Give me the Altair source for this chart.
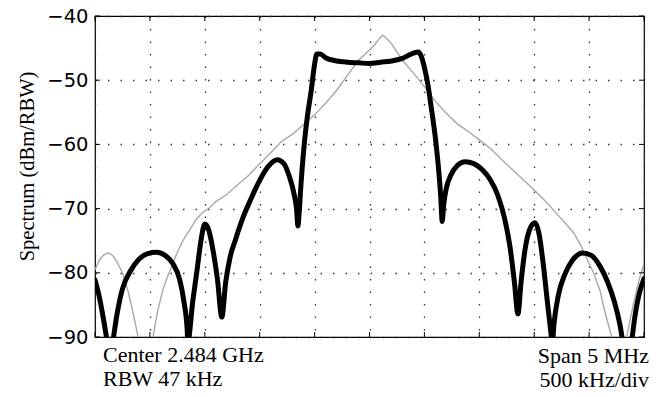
import altair as alt
import pandas as pd

# ---- data (frequency offset in MHz, level in dBm/RBW) ----
black_f = [-2.50, -2.46, -2.42, -2.38, -2.36, -2.34, -2.30, -2.25, -2.18, -2.10,
           -2.02, -1.94, -1.86, -1.79, -1.73, -1.69, -1.66, -1.655, -1.61, -1.57,
           -1.535, -1.50, -1.465, -1.425, -1.385, -1.345, -1.31, -1.27, -1.22, -1.15,
           -1.08, -1.00, -0.92, -0.84, -0.78, -0.73, -0.69, -0.665, -0.652, -0.64,
           -0.625, -0.60, -0.57, -0.53, -0.50, -0.48, -0.45, -0.40, -0.30, -0.20,
           -0.10, 0.00, 0.10, 0.20, 0.30, 0.37, 0.44, 0.47, 0.50, 0.53,
           0.56, 0.60, 0.63, 0.65, 0.662, 0.675, 0.70, 0.74, 0.80, 0.87,
           0.95, 1.03, 1.10, 1.17, 1.23, 1.28, 1.32, 1.352, 1.38, 1.42,
           1.465, 1.507, 1.545, 1.58, 1.62, 1.65, 1.665, 1.68, 1.72, 1.78,
           1.85, 1.94, 2.02, 2.10, 2.17, 2.23, 2.28, 2.32, 2.35, 2.38,
           2.42, 2.46, 2.50]
black_db = [-81.1, -83.8, -87.5, -91.5, -93.0, -91.0, -86.5, -82.5, -79.8, -77.9,
            -77.0, -76.8, -77.3, -78.6, -81.0, -84.5, -89.0, -90.8, -84.5, -79.5,
            -75.0, -72.4, -73.3, -76.5, -81.0, -86.9, -81.5, -77.6, -74.8, -71.3,
            -68.5, -65.6, -63.4, -62.4, -63.0, -65.0, -67.5, -70.0, -72.7, -70.5,
            -66.5, -61.0, -56.2, -51.5, -47.5, -45.9, -45.9, -46.5, -47.0, -47.2,
            -47.3, -47.4, -47.2, -47.0, -46.6, -46.0, -45.6, -46.2, -48.0, -50.5,
            -54.0, -59.0, -64.0, -68.5, -72.0, -69.5, -66.8, -64.8, -63.3, -62.7,
            -63.0, -64.0, -65.5, -68.0, -71.5, -76.0, -81.5, -86.4, -81.5, -76.0,
            -73.0, -72.2, -74.0, -78.3, -84.5, -89.0, -91.0, -88.0, -83.5, -80.2,
            -78.0, -76.9, -77.3, -79.0, -81.5, -84.5, -88.0, -92.0, -94.0, -91.5,
            -86.5, -83.0, -80.9]

gray_f = [-2.50, -2.46, -2.42, -2.38, -2.34, -2.30, -2.25, -2.20, -2.15, -2.11,
          -2.08, -2.04, -2.00, -1.97, -1.93, -1.88, -1.84, -1.79, -1.75, -1.70,
          -1.64, -1.58, -1.52, -1.46, -1.40, -1.30, -1.20, -1.10, -1.00, -0.90,
          -0.80, -0.70, -0.60, -0.50, -0.40, -0.30, -0.20, -0.10, 0.00, 0.05,
          0.10, 0.12, 0.15, 0.20, 0.25, 0.30, 0.40, 0.50, 0.60, 0.70,
          0.80, 0.90, 1.00, 1.10, 1.20, 1.30, 1.40, 1.50, 1.60, 1.70,
          1.80, 1.86, 1.92, 1.98, 2.04, 2.10, 2.14, 2.18, 2.21, 2.25,
          2.28, 2.31, 2.34, 2.38, 2.42, 2.46, 2.50]
gray_db = [-79.5, -78.0, -77.2, -76.9, -77.3, -78.3, -80.0, -82.8, -86.5, -89.8,
           -92.5, -94.0, -92.5, -89.8, -86.0, -82.5, -80.6, -78.5, -76.8, -75.0,
           -73.4, -71.7, -70.6, -69.9, -68.9, -67.8, -66.3, -64.8, -63.0, -61.3,
           -59.5, -58.4, -56.9, -55.4, -53.6, -51.6, -49.2, -46.9, -45.3, -44.4,
           -43.3, -43.0, -43.4, -44.3, -45.6, -46.9, -48.9, -51.0, -53.3, -55.2,
           -56.8, -58.0, -59.3, -60.6, -62.3, -63.9, -65.5, -67.1, -68.8, -70.7,
           -72.6, -73.8, -75.6, -77.8, -80.0, -82.8, -85.8, -88.4, -90.2, -92.5,
           -93.5, -92.5, -90.2, -86.8, -83.6, -80.8, -78.6]

y_ticks = [-90, -80, -70, -60, -50, -40]
x_ticks = [-2.5, -2.0, -1.5, -1.0, -0.5, 0.0, 0.5, 1.0, 1.5, 2.0, 2.5]
left_notes = ["Center 2.484 GHz", "RBW 47 kHz"]
right_notes = ["Span 5 MHz", "500 kHz/div"]
y_title = "Spectrum (dBm/RBW)"

# ---- layout ----
W, H = 549, 321
TICK = 5

black_df = pd.DataFrame({"f": black_f, "db": black_db})
gray_df = pd.DataFrame({"f": gray_f, "db": gray_db})
yt_df = pd.DataFrame({"v": y_ticks})
xt_df = pd.DataFrame({"v": x_ticks})
left_df = pd.DataFrame({"t": ["\n".join(left_notes)]})
right_df = pd.DataFrame({"t": ["\n".join(right_notes)]})

xscale = alt.Scale(domain=[-2.5, 2.5], nice=False, zero=False)
yscale = alt.Scale(domain=[-90, -40], nice=False, zero=False)

grid_style = dict(grid=True, gridDash=[1.5, 11], gridColor="#333333", gridWidth=1.3)

xaxis = alt.Axis(values=x_ticks, labels=False, ticks=False, domain=False, title=None,
                 **grid_style)
yaxis = alt.Axis(values=y_ticks, ticks=False, domain=False, title=y_title,
                 labelFont="DejaVu Sans", labelFontSize=19.5, labelColor="black",
                 labelPadding=7,
                 titleFont="Liberation Serif", titleFontSize=20.5, titleFontWeight="normal",
                 titleColor="black", titleX=-58, titleY=150, titleBaseline="bottom",
                 titleAlign="center", titleAngle=270,
                 **grid_style)

X = alt.X("f:Q", scale=xscale, axis=xaxis)
Y = alt.Y("db:Q", scale=yscale, axis=yaxis)

gray = alt.Chart(gray_df).mark_line(color="#a8a8a8", strokeWidth=1.4, clip=True).encode(x=X, y=Y)
black = alt.Chart(black_df).mark_line(
    color="black", strokeWidth=5, strokeJoin="round", strokeCap="round",
    clip=True, interpolate="monotone").encode(x=X, y=Y)

YV = alt.Y("v:Q", scale=yscale, axis=yaxis)
XV = alt.X("v:Q", scale=xscale, axis=xaxis)
tick_style = dict(color="black", strokeWidth=1)
ytl = alt.Chart(yt_df).mark_rule(**tick_style).encode(y=YV, x=alt.value(0), x2=alt.value(TICK))
ytr = alt.Chart(yt_df).mark_rule(**tick_style).encode(y=YV, x=alt.value(W - TICK), x2=alt.value(W))
xtb = alt.Chart(xt_df).mark_rule(**tick_style).encode(x=XV, y=alt.value(H - TICK), y2=alt.value(H))
xtt = alt.Chart(xt_df).mark_rule(**tick_style).encode(x=XV, y=alt.value(0), y2=alt.value(TICK))

note_style = dict(font="Liberation Serif", fontSize=22, color="black", lineBreak="\n",
                  lineHeight=24, baseline="alphabetic")
left_txt = alt.Chart(left_df).mark_text(align="left", **note_style).encode(
    text="t:N", x=alt.value(8), y=alt.value(H + 25))
right_txt = alt.Chart(right_df).mark_text(align="right", **note_style).encode(
    text="t:N", x=alt.value(W + 5), y=alt.value(H + 26))

chart = alt.layer(gray, black, ytl, ytr, xtb, xtt, left_txt, right_txt).properties(
    width=W, height=H,
    padding={"left": 95, "top": 16, "right": 24, "bottom": 60},
    autosize=alt.AutoSizeParams(type="none"),
    background="white",
).configure_view(stroke="black", strokeWidth=1.2)

chart.save("out.html", embed_options={"renderer": "svg", "actions": False})
